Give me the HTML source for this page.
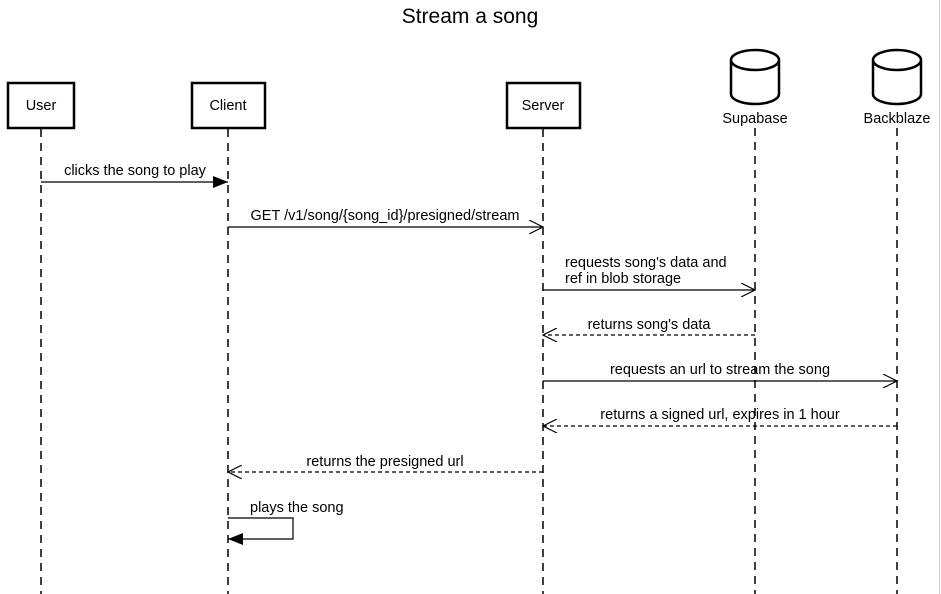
<!DOCTYPE html>
<html><head><style>body{margin:0;background:#fff}svg{display:block}text{font-family:"Liberation Sans",Arial,sans-serif;font-size:14.5px;fill:#000}</style></head><body>
<svg width="941" height="594" xmlns="http://www.w3.org/2000/svg">
<defs>
<marker id="f" markerWidth="16" markerHeight="12" refX="15" refY="6" orient="auto" markerUnits="userSpaceOnUse"><path d="M0,0 L15,6 L0,12z" fill="#000"/></marker>
<marker id="o" markerWidth="16" markerHeight="14" refX="14" refY="7" orient="auto" markerUnits="userSpaceOnUse"><path d="M0,0 L14,7 L0,14" fill="none" stroke="#000" stroke-width="1.2"/></marker>
</defs>
<text x="470" y="23" text-anchor="middle" style="font-size:21px">Stream a song</text>
<line x1="939.5" y1="0" x2="939.5" y2="594" stroke="#ccc"/>
<g stroke="#000" stroke-width="1.5" stroke-dasharray="8,6">
<line x1="41" y1="129" x2="41" y2="594"/><line x1="228" y1="129" x2="228" y2="594"/><line x1="543" y1="129" x2="543" y2="594"/><line x1="755" y1="128" x2="755" y2="594"/><line x1="897" y1="128" x2="897" y2="594"/>
</g>
<g fill="#fff" stroke="#000" stroke-width="2.5">
<rect x="8" y="83" width="66" height="45"/><rect x="192" y="83" width="73" height="45"/><rect x="507" y="83" width="73" height="45"/>
<path d="M731,60 v34 a24,10 0 0 0 48,0 v-34 a24,10 0 0 0 -48,0 a24,10 0 0 0 48,0"/>
<path d="M873,60 v34 a24,10 0 0 0 48,0 v-34 a24,10 0 0 0 -48,0 a24,10 0 0 0 48,0"/>
</g>
<g text-anchor="middle">
<text x="41" y="110">User</text><text x="228" y="110">Client</text><text x="543" y="110">Server</text>
<text x="755" y="123">Supabase</text><text x="897" y="123">Backblaze</text>
<text x="135" y="175">clicks the song to play</text>
<text x="385" y="220">GET /v1/song/{song_id}/presigned/stream</text>
<text x="649" y="329">returns song's data</text>
<text x="720" y="374">requests an url to stream the song</text>
<text x="720" y="419">returns a signed url, expires in 1 hour</text>
<text x="385" y="466">returns the presigned url</text>
</g>
<text x="565" y="267">requests song's data and</text><text x="565" y="283">ref in blob storage</text>
<text x="250" y="512">plays the song</text>
<g stroke="#000" stroke-width="1.2" fill="none">
<line x1="41" y1="182" x2="228" y2="182" marker-end="url(#f)"/>
<line x1="228" y1="227" x2="543" y2="227" marker-end="url(#o)"/>
<line x1="543" y1="290" x2="755" y2="290" marker-end="url(#o)"/>
<line x1="755" y1="335" x2="543" y2="335" stroke-dasharray="4,3" marker-end="url(#o)"/>
<line x1="543" y1="381" x2="897" y2="381" marker-end="url(#o)"/>
<line x1="897" y1="426" x2="543" y2="426" stroke-dasharray="4,3" marker-end="url(#o)"/>
<line x1="543" y1="472" x2="228" y2="472" stroke-dasharray="4,3" marker-end="url(#o)"/>
<polyline points="228,518 293,518 293,539 228,539" marker-end="url(#f)"/>
</g>
</svg></body></html>
